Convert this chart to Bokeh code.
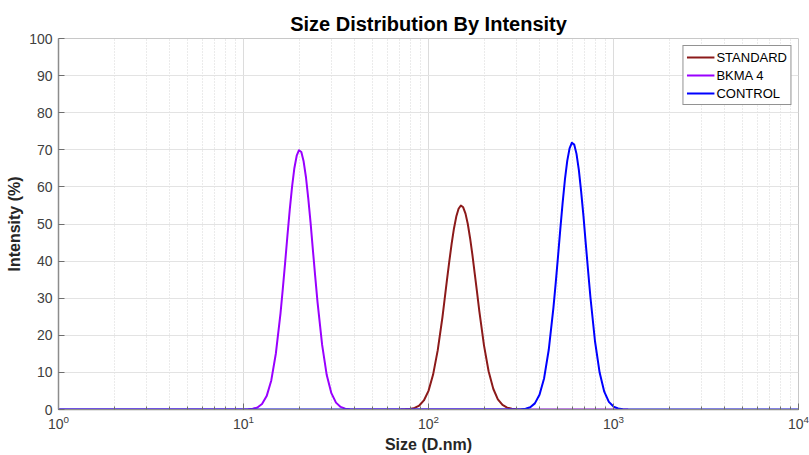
from bokeh.plotting import figure
from bokeh.models import Legend, LegendItem, FixedTicker, Range1d
from bokeh.embed import file_html
from bokeh.resources import INLINE

# ---- data ----
standard_size = [70.79, 74.99, 79.43, 84.14, 89.13, 94.41, 100.0, 105.9, 112.2, 118.9,
                 122.3, 125.9, 129.6, 133.4, 137.3, 141.3, 145.4, 149.6, 154.0, 158.5,
                 163.1, 167.9, 172.8, 177.8, 183.1, 188.4, 199.5, 211.3,
                 223.9, 237.1, 251.2, 266.1, 281.8, 298.5, 316.2]
standard_int = [0.0, 0.05, 0.16, 0.43, 1.07, 2.44, 5.02, 9.41, 16.0, 24.8,
                29.8, 35.0, 40.0, 44.7, 48.8, 52.0, 54.1, 55.0, 54.5, 52.8,
                50.0, 46.1, 41.6, 36.6, 31.5, 26.4, 17.3, 10.3,
                5.59, 2.75, 1.23, 0.50, 0.19, 0.06, 0.0]

bkma_size = [1.0, 10.0, 10.59, 11.22, 11.89, 12.59, 13.34, 14.13, 14.96, 15.85,
             16.31, 16.79, 17.28, 17.78, 18.30, 18.84, 19.39, 19.95, 20.54, 21.13,
             21.76, 22.39, 23.05, 23.71, 24.41, 25.12, 26.61, 28.18, 29.85,
             31.62, 33.50, 35.48, 37.58, 39.81, 1200.0]
bkma_int = [0.0, 0.0, 0.05, 0.18, 0.54, 1.48, 3.61, 7.83, 15.1, 25.9,
            32.5, 39.6, 46.9, 53.8, 60.0, 65.1, 68.4, 69.9, 69.4, 66.9,
            62.6, 56.9, 50.3, 43.1, 35.9, 29.0, 17.4, 9.27, 4.40,
            1.85, 0.70, 0.23, 0.07, 0.02, 0.0]

control_size = [1.0, 281.8, 298.5, 316.2, 335.0, 354.8, 375.8, 398.1, 421.7, 446.7,
                473.2, 486.9, 501.2, 515.8, 530.9, 546.4, 562.3, 578.8, 595.7, 613.2,
                631.0, 649.6, 668.3, 688.1, 707.9, 728.9, 749.9, 794.3,
                841.4, 891.3, 944.1, 1000.0, 1059.0, 1122.0, 1189.0, 1259.0, 10000.0]
control_int = [0.0, 0.0, 0.02, 0.06, 0.21, 0.62, 1.65, 3.96, 8.44, 16.1,
               27.3, 34.0, 41.2, 48.6, 55.7, 62.0, 67.0, 70.4, 71.9, 71.4,
               68.9, 64.6, 58.8, 52.1, 44.8, 37.4, 30.4, 18.4,
               9.96, 4.80, 2.06, 0.79, 0.27, 0.08, 0.02, 0.0, 0.0]

series_names = ["STANDARD", "BKMA 4", "CONTROL"]
series_colors = ["#8c1a1a", "#9900ff", "#0000ff"]
y_ticks = [0, 10, 20, 30, 40, 50, 60, 70, 80, 90, 100]

FONT = "Liberation Sans"

p = figure(width=809, height=455, x_axis_type="log", output_backend="svg",
           toolbar_location=None, title="Size Distribution By Intensity",
           x_range=Range1d(1, 10000), y_range=Range1d(0, 100),
           min_border_left=58, min_border_right=11, min_border_top=38, min_border_bottom=46)

p.title.align = "center"
p.title.text_font = FONT
p.title.text_font_size = "20px"
p.title.text_font_style = "bold"
p.title.text_color = "#000000"
p.title.standoff = 8

renderers = []
for xs, ys, c in [(standard_size, standard_int, series_colors[0]),
                  (bkma_size, bkma_int, series_colors[1]),
                  (control_size, control_int, series_colors[2])]:
    r = p.line(xs, ys, line_color=c, line_width=2, line_join="round")
    renderers.append(r)

# axes
p.yaxis.ticker = FixedTicker(ticks=y_ticks)
for ax in (p.xaxis[0], p.yaxis[0]):
    ax.axis_line_color = "#8c8c8c"
    ax.axis_line_width = 1.5
    ax.major_tick_line_color = "#6e6e6e"
    ax.minor_tick_line_color = "#6e6e6e"
    ax.major_tick_in = 6
    ax.major_tick_out = 0
    ax.minor_tick_in = 3
    ax.minor_tick_out = 0
    ax.major_label_text_font = FONT
    ax.major_label_text_font_size = "14px"
    ax.major_label_text_color = "#404040"
    ax.axis_label_text_font = FONT
    ax.axis_label_text_font_size = "16px"
    ax.axis_label_text_font_style = "bold"
    ax.axis_label_text_color = "#262626"
p.yaxis.minor_tick_line_color = None
p.xaxis.axis_label = "Size (D.nm)"
p.yaxis.axis_label = "Intensity (%)"
p.xaxis.axis_label_standoff = 4
p.yaxis.axis_label_standoff = 3
p.xaxis.major_label_standoff = 5
p.yaxis.major_label_standoff = 6

# grids
p.xgrid.grid_line_color = "#dcdcdc"
p.ygrid.grid_line_color = "#e3e3e3"
p.xgrid.minor_grid_line_color = "#d6d6d6"
p.xgrid.minor_grid_line_dash = "1 2"
p.ygrid.grid_line_width = 1

p.outline_line_color = "#c8c8c8"
p.outline_line_width = 1

legend = Legend(items=[LegendItem(label=n, renderers=[r]) for n, r in zip(series_names, renderers)],
                location="top_right")
legend.border_line_color = "#262626"
legend.border_line_width = 1
legend.background_fill_alpha = 1
legend.label_text_font = FONT
legend.label_text_font_size = "13px"
legend.label_text_color = "#000000"
legend.glyph_width = 28
legend.glyph_height = 16
legend.label_height = 16
legend.label_standoff = 2
legend.spacing = 2
legend.padding = 3
legend.margin = 7
p.add_layout(legend)

open("out.html", "w").write(file_html(p, INLINE))
